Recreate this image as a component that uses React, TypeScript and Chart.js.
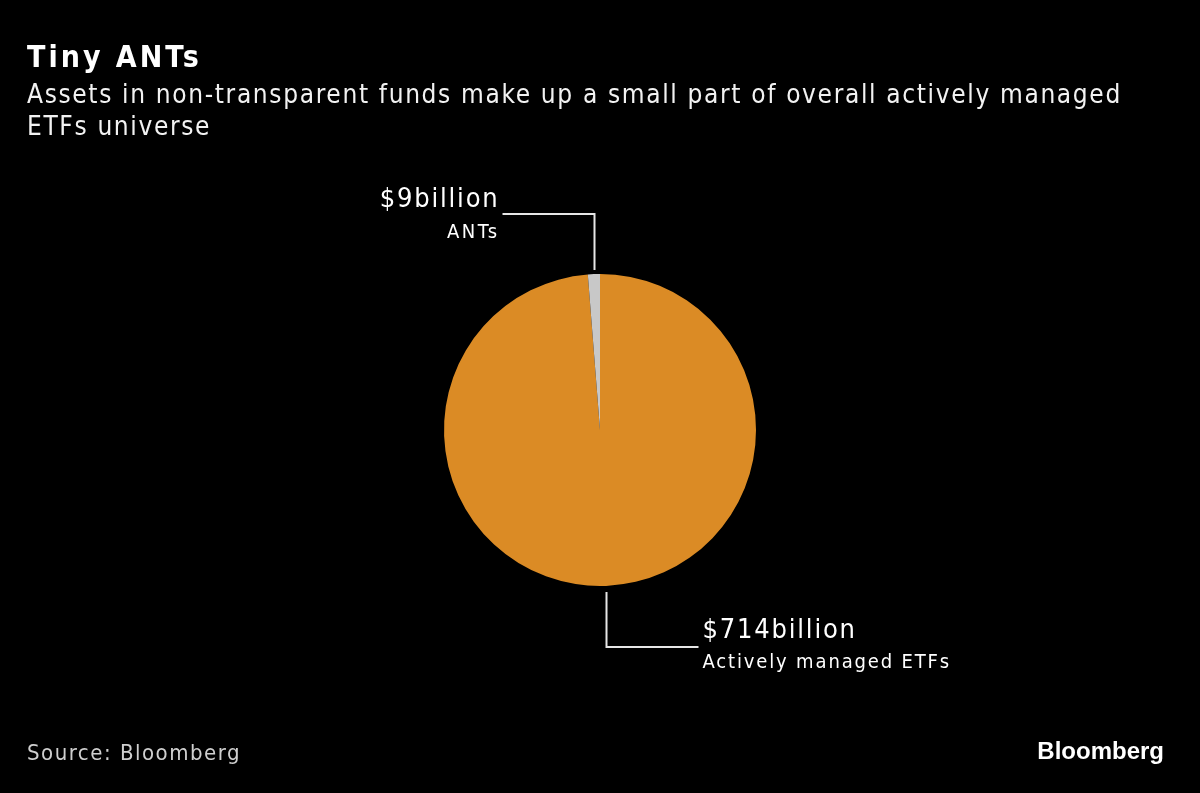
import React, { useEffect, useRef } from "react";
import { Chart, registerables } from "chart.js";

Chart.register(...registerables);

const categories = ["Actively managed ETFs", "ANTs"];
const values = [714, 9];
const valueLabels = ["$714billion", "$9billion"];
const sliceColors = ["#DB8B25", "#C8C8C8"];

const title = "Tiny ANTs";
const subtitleLines = [
  "Assets in non-transparent funds make up a small part of overall actively managed",
  "ETFs universe",
];
const sourceText = "Source: Bloomberg";
const brandText = "Bloomberg";

const FONT = "'DejaVu Sans Condensed', 'DejaVu Sans', sans-serif";

const leaderPlugin = {
  id: "leaderLabels",
  afterDraw(chart: any) {
    const ctx = chart.ctx;
    const meta = chart.getDatasetMeta(0);
    ctx.save();
    meta.data.forEach((arc: any, i: number) => {
      const p = arc.getProps(["x", "y", "startAngle", "endAngle", "outerRadius"], true);
      const mid = (p.startAngle + p.endAngle) / 2;
      const ex = p.x + Math.cos(mid) * p.outerRadius;
      const ey = p.y + Math.sin(mid) * p.outerRadius;
      const top = ey < p.y;
      ctx.strokeStyle = "#E6E6E6";
      ctx.lineWidth = 2;
      ctx.beginPath();
      const vx = Math.round(ex) + 0.5;
      ctx.fillStyle = "#FFFFFF";
      ctx.textBaseline = "alphabetic";
      if (top) {
        const y0 = ey - 4;
        const y1 = ey - 60;
        const x1 = vx - 92;
        ctx.moveTo(vx, y0);
        ctx.lineTo(vx, y1);
        ctx.lineTo(x1, y1);
        ctx.stroke();
        ctx.textAlign = "right";
        ctx.font = `27px ${FONT}`;
        ctx.letterSpacing = "1.8px";
        ctx.fillText(valueLabels[i], x1 - 3, y1 - 7);
        ctx.font = `20px ${FONT}`;
        ctx.letterSpacing = "2.4px";
        ctx.fillText(categories[i], x1 - 3, y1 + 24);
      } else {
        const y0 = ey + 6;
        const y1 = ey + 61;
        const x1 = vx + 92;
        ctx.moveTo(vx, y0);
        ctx.lineTo(vx, y1);
        ctx.lineTo(x1, y1);
        ctx.stroke();
        ctx.textAlign = "left";
        ctx.font = `27px ${FONT}`;
        ctx.letterSpacing = "1.8px";
        ctx.fillText(valueLabels[i], x1 + 4, y1 - 9);
        ctx.font = `20px ${FONT}`;
        ctx.letterSpacing = "1.85px";
        ctx.fillText(categories[i], x1 + 4, y1 + 21);
      }
    });
    ctx.restore();
  },
};

function PieChart() {
  const ref = useRef<HTMLCanvasElement | null>(null);
  useEffect(() => {
    if (!ref.current) return;
    const chart = new Chart(ref.current, {
      type: "pie",
      data: {
        labels: categories,
        datasets: [
          {
            data: values,
            backgroundColor: sliceColors,
            borderWidth: 0,
          },
        ],
      },
      options: {
        animation: false,
        responsive: false,
        maintainAspectRatio: false,
        layout: { padding: { top: 274, bottom: 207, left: 0, right: 0 } },
        plugins: {
          legend: { display: false },
          tooltip: { enabled: false },
          title: { display: false },
        },
      },
      plugins: [leaderPlugin],
    });
    return () => chart.destroy();
  }, []);
  return (
    <canvas
      ref={ref}
      width={1200}
      height={793}
      style={{ position: "absolute", left: 0, top: 0, width: 1200, height: 793 }}
    />
  );
}

export default function App() {
  useEffect(() => {
    document.body.style.margin = "0";
    document.body.style.background = "#000";
  }, []);
  return (
    <div
      style={{
        position: "fixed",
        left: 0,
        top: 0,
        width: 1200,
        height: 793,
        background: "#000",
        overflow: "hidden",
        fontFamily: FONT,
        color: "#fff",
      }}
    >
      <PieChart />
      <div
        style={{
          position: "absolute",
          left: 27,
          top: 37,
          fontSize: 30,
          fontWeight: "bold",
          lineHeight: "40px",
          letterSpacing: "3px",
          whiteSpace: "nowrap",
        }}
      >
        {title}
      </div>
      <div
        style={{
          position: "absolute",
          left: 27,
          top: 78,
          fontSize: 26,
          lineHeight: "32px",
          letterSpacing: "1.65px",
          color: "#F2F2F2",
          whiteSpace: "nowrap",
        }}
      >
        {subtitleLines.map((l, i) => (
          <div key={i}>{l}</div>
        ))}
      </div>
      <div
        style={{
          position: "absolute",
          left: 27,
          top: 738,
          fontSize: 22,
          lineHeight: "30px",
          letterSpacing: "1.5px",
          color: "#CFCFCF",
          whiteSpace: "nowrap",
        }}
      >
        {sourceText}
      </div>
      <div
        style={{
          position: "absolute",
          right: 36,
          top: 736,
          fontSize: 24,
          fontWeight: "bold",
          fontFamily: "'Liberation Sans', Arial, sans-serif",
          lineHeight: "30px",
          whiteSpace: "nowrap",
        }}
      >
        {brandText}
      </div>
    </div>
  );
}
